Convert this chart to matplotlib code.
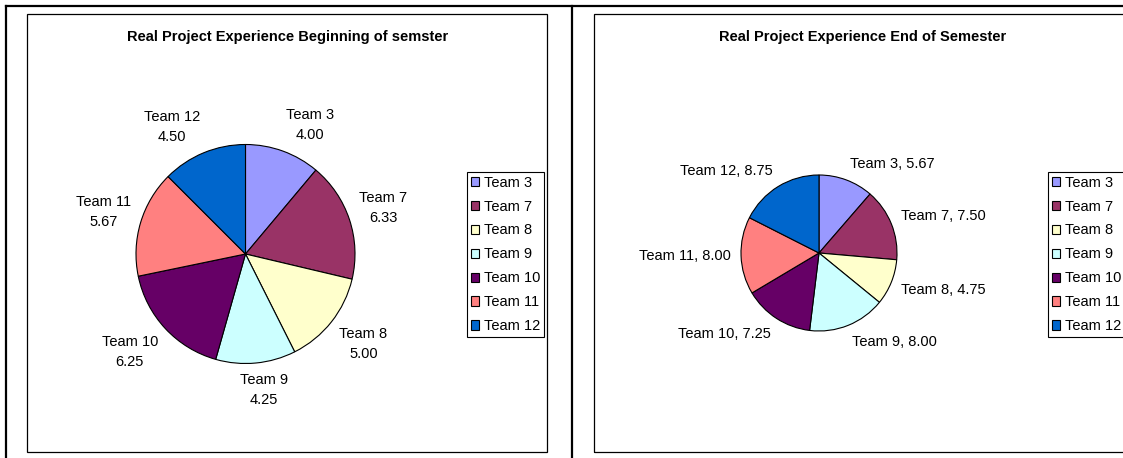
import numpy as np
import matplotlib.pyplot as plt
from matplotlib.patches import Rectangle
from matplotlib.lines import Line2D

plt.rcParams['font.family'] = ['Liberation Sans', 'DejaVu Sans']

teams = ['Team 3', 'Team 7', 'Team 8', 'Team 9', 'Team 10', 'Team 11', 'Team 12']
begin_vals = [4.00, 6.33, 5.00, 4.25, 6.25, 5.67, 4.50]
end_vals = [5.67, 7.50, 4.75, 8.00, 7.25, 8.00, 8.75]
colors = ['#9999FF', '#993366', '#FFFFCC', '#CCFFFF', '#660066', '#FF8080', '#0066CC']

W, H = 1123, 458
fig = plt.figure(figsize=(W / 100, H / 100), dpi=100)
renderer = fig.canvas.get_renderer()


def px_rect(x0, y0, x1, y1):
    # pixel box (top-left origin) -> figure fraction
    return [x0 / W, 1 - y1 / H, (x1 - x0) / W, (y1 - y0) / H]


def draw_pie(cx, cy, r, vals, labels, title, title_x, legend_x):
    half = 200
    ax = fig.add_axes(px_rect(cx - half, cy - half, cx + half, cy + half))
    wedges, texts = ax.pie(vals, colors=colors, startangle=90, counterclock=False,
                           labels=labels, labeldistance=1.1,
                           wedgeprops=dict(edgecolor='black', linewidth=0.8),
                           textprops=dict(fontsize=10.5, linespacing=1.55))
    # pie() resets the limits, so set them afterwards
    ax.set_xlim(-half / r, half / r)
    ax.set_ylim(-half / r, half / r)
    ax.set_aspect('equal')
    ax.axis('off')

    # Excel-like placement: label just outside the rim, corner towards the pie
    gap = 10 / r
    for w, t in zip(wedges, texts):
        mid = np.deg2rad((w.theta1 + w.theta2) / 2)
        dx, dy = np.cos(mid), np.sin(mid)
        t.set_ha('center')
        t.set_va('center')
        bb = t.get_window_extent(renderer)
        tw, th = bb.width / r, bb.height / r
        ox = tw / 2 * np.clip(dx * 3, -1, 1)
        oy = th / 2 * np.clip(dy * 1.5, -1, 1)
        t.set_position(((1 + gap) * dx + ox, (1 + gap) * dy + oy))
        t.set_clip_on(False)

    fig.text(title_x / W, 1 - 37 / H, title, ha='center', va='center',
             fontsize=10.5, fontweight='bold')
    leg = fig.legend(wedges, teams, loc='upper left',
                     bbox_to_anchor=(legend_x / W, 1 - 172 / H),
                     fontsize=10.5, frameon=True, fancybox=False,
                     edgecolor='black', framealpha=1, borderpad=0.25,
                     handlelength=0.6, handleheight=0.6, handletextpad=0.3,
                     labelspacing=0.68, borderaxespad=0)
    leg.get_frame().set_linewidth(0.8)
    for h in leg.legend_handles:
        h.set_edgecolor('black')
        h.set_linewidth(0.8)


# chart area boxes
fig.patches.append(Rectangle((27 / W, 1 - 452 / H), (547 - 27) / W, (452 - 14) / H,
                             transform=fig.transFigure, fill=False,
                             edgecolor='black', linewidth=0.9))
fig.patches.append(Rectangle((594 / W, 1 - 452 / H), (1140 - 594) / W, (452 - 14) / H,
                             transform=fig.transFigure, fill=False,
                             edgecolor='black', linewidth=0.9))
# outer frame lines
fig.lines.append(Line2D([6 / W, 1], [1 - 6 / H] * 2, transform=fig.transFigure,
                        color='black', linewidth=1.6))
fig.lines.append(Line2D([6 / W] * 2, [1 - 6 / H, 0], transform=fig.transFigure,
                        color='black', linewidth=1.6))
fig.lines.append(Line2D([571.5 / W] * 2, [1 - 6 / H, 0], transform=fig.transFigure,
                        color='black', linewidth=1.6))

begin_labels = [f'{t}\n{v:.2f}' for t, v in zip(teams, begin_vals)]
end_labels = [f'{t}, {v:.2f}' for t, v in zip(teams, end_vals)]

draw_pie(245.5, 254, 109.5, begin_vals, begin_labels,
         'Real Project Experience Beginning of semster', 288, 467)
draw_pie(819, 253, 78, end_vals, end_labels,
         'Real Project Experience End of Semester', 863, 1048)

fig.savefig('out.png', dpi=100)
